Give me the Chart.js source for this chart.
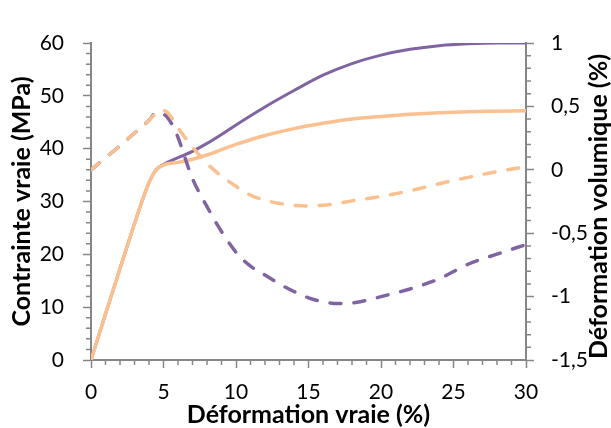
<!DOCTYPE html>
<html>
<head>
<meta charset="utf-8">
<script src="https://cdn.jsdelivr.net/npm/chart.js@4"></script>
<style>
  html, body { margin: 0; padding: 0; background: #fff; }
  #wrap { width: 611px; height: 428px; }
</style>
</head>
<body>
<div id="wrap"><canvas id="chart" width="611" height="428"></canvas></div>
<script>
// true strain (%) for the stress curves
const strainStress = [0, 1, 2, 3, 4, 4.5, 5, 6, 7, 8, 9, 10, 12, 14, 16, 18, 20, 22, 24, 26, 28, 30];
const stressPurple = [0, 8.7, 17.3, 25.8, 33.6, 36.0, 37.0, 38.3, 39.5, 41.0, 42.7, 44.5, 47.9, 51.0, 53.9, 56.1, 57.7, 58.8, 59.5, 59.85, 60, 60];
const stressOrange = [0, 8.7, 17.3, 25.8, 33.6, 36.0, 36.9, 37.4, 38.0, 38.8, 39.8, 40.8, 42.5, 43.8, 44.8, 45.6, 46.1, 46.5, 46.8, 47.0, 47.1, 47.2];

// volumetric strain (%) curves
const strainVolPurple = [0, 1, 2, 3, 4, 4.5, 5, 5.8, 7, 8, 8.8, 10, 11, 12, 13, 14, 15, 16, 17, 18, 19, 20, 22, 24, 26, 28, 30];
const volPurple = [0, 0.095, 0.19, 0.29, 0.39, 0.45, 0.44, 0.31, -0.07, -0.29, -0.45, -0.65, -0.76, -0.83, -0.9, -0.96, -1.01, -1.04, -1.055, -1.05, -1.03, -1.0, -0.94, -0.86, -0.745, -0.665, -0.59];
const strainVolOrange = [0, 1, 2, 3, 4, 4.8, 5.3, 6, 7, 8, 9, 10, 11, 12, 13, 14, 15, 16, 17, 18, 20, 22, 24, 26, 28, 30];
const volOrange = [0, 0.095, 0.19, 0.29, 0.39, 0.47, 0.45, 0.33, 0.18, 0.05, -0.05, -0.13, -0.2, -0.24, -0.265, -0.28, -0.285, -0.28, -0.265, -0.245, -0.21, -0.165, -0.11, -0.06, -0.015, 0.025];

const xTicks = [0, 5, 10, 15, 20, 25, 30];
const stressTicks = [0, 10, 20, 30, 40, 50, 60];
const volTicks = [-1.5, -1, -0.5, 0, 0.5, 1];

const PURPLE = '#8064A2';
const ORANGE = '#FAC090';
const AXIS = '#868686';
const FONT = 'Lato';
const TITLE_SIZE = 25;

const pts = (xs, ys) => xs.map((x, i) => ({ x: x, y: ys[i] }));

// minor ticks + right axis title (rotated the other way from chart.js default)
const extras = {
  id: 'extras',
  afterDraw(chart) {
    const ctx = chart.ctx;
    const { x, y, y2 } = chart.scales;
    const area = chart.chartArea;
    ctx.save();
    ctx.strokeStyle = AXIS;
    ctx.lineWidth = 1.5;
    ctx.beginPath();
    for (let v = 0; v <= 30; v += 1) {
      if (v % 5 === 0) continue;
      const px = x.getPixelForValue(v);
      ctx.moveTo(px, area.bottom);
      ctx.lineTo(px, area.bottom + 5);
    }
    for (let v = 0; v <= 60; v += 2) {
      if (v % 10 === 0) continue;
      const py = y.getPixelForValue(v);
      ctx.moveTo(area.left, py);
      ctx.lineTo(area.left - 5, py);
    }
    for (let i = -15; i <= 10; i++) {
      if (i % 5 === 0) continue;
      const py = y2.getPixelForValue(i / 10);
      ctx.moveTo(area.right, py);
      ctx.lineTo(area.right + 5, py);
    }
    ctx.stroke();

    ctx.fillStyle = '#000';
    ctx.font = 'bold ' + TITLE_SIZE + 'px ' + FONT;
    ctx.textAlign = 'center';
    ctx.textBaseline = 'middle';
    ctx.translate(chart.width - 12, (area.top + area.bottom) / 2 + 5);
    ctx.rotate(-Math.PI / 2);
    ctx.fillText('Déformation volumique (%)', 0, 0);
    ctx.restore();
  }
};

const comma = v => String(v).replace('.', ',');

new Chart(document.getElementById('chart'), {
  type: 'line',
  data: {
    datasets: [
      {
        label: 'Vol orange',
        data: pts(strainVolOrange, volOrange),
        yAxisID: 'y2',
        borderColor: ORANGE,
        borderWidth: 3.5,
        borderDash: [11, 13],
        borderCapStyle: 'round'
      },
      {
        label: 'Vol violet',
        data: pts(strainVolPurple, volPurple),
        yAxisID: 'y2',
        borderColor: PURPLE,
        borderWidth: 3.5,
        borderDash: [11, 13],
        borderCapStyle: 'round'
      },
      {
        label: 'Contrainte orange',
        data: pts(strainStress, stressOrange),
        yAxisID: 'y',
        borderColor: ORANGE,
        borderWidth: 3.5
      },
      {
        label: 'Contrainte violet',
        data: pts(strainStress, stressPurple),
        yAxisID: 'y',
        borderColor: PURPLE,
        borderWidth: 3
      }
    ]
  },
  options: {
    responsive: false,
    animation: false,
    layout: { padding: { top: 43, left: 0, right: 0, bottom: 0 } },
    elements: {
      point: { radius: 0 },
      line: { cubicInterpolationMode: 'monotone', fill: false }
    },
    plugins: {
      legend: { display: false },
      tooltip: { enabled: false }
    },
    scales: {
      x: {
        type: 'linear',
        min: 0,
        max: 30,
        afterBuildTicks: s => { s.ticks = xTicks.map(v => ({ value: v })); },
        afterFit: s => { s.height = 68; },
        grid: { drawOnChartArea: false, tickLength: 8, tickColor: AXIS, tickWidth: 1.5 },
        border: { color: AXIS, width: 2 },
        ticks: { color: '#000', font: { family: FONT, size: 21 }, padding: 12, maxRotation: 0 },
        title: {
          display: true,
          text: 'Déformation vraie (%)',
          color: '#000',
          font: { family: FONT, size: TITLE_SIZE, weight: 'bold', lineHeight: 1 },
          padding: { top: 0, bottom: 1 }
        }
      },
      y: {
        type: 'linear',
        position: 'left',
        min: 0,
        max: 60,
        afterBuildTicks: s => { s.ticks = stressTicks.map(v => ({ value: v })); },
        afterFit: s => { s.width = 91; },
        grid: { drawOnChartArea: false, tickLength: 8, tickColor: AXIS, tickWidth: 1.5 },
        border: { color: AXIS, width: 2 },
        ticks: { color: '#000', font: { family: FONT, size: 21 }, padding: 19 },
        title: {
          display: true,
          text: 'Contrainte vraie (MPa)',
          color: '#000',
          font: { family: FONT, size: TITLE_SIZE, weight: 'bold', lineHeight: 1 },
          padding: { top: 9, bottom: 0 }
        }
      },
      y2: {
        type: 'linear',
        position: 'right',
        min: -1.5,
        max: 1,
        afterBuildTicks: s => { s.ticks = volTicks.map(v => ({ value: v })); },
        afterFit: s => { s.width = 85; },
        grid: { drawOnChartArea: false, tickLength: 8, tickColor: AXIS, tickWidth: 1.5 },
        border: { color: AXIS, width: 2 },
        ticks: { color: '#000', font: { family: FONT, size: 21 }, padding: 17, callback: v => comma(v) }
      }
    }
  },
  plugins: [extras]
});
</script>
</body>
</html>
